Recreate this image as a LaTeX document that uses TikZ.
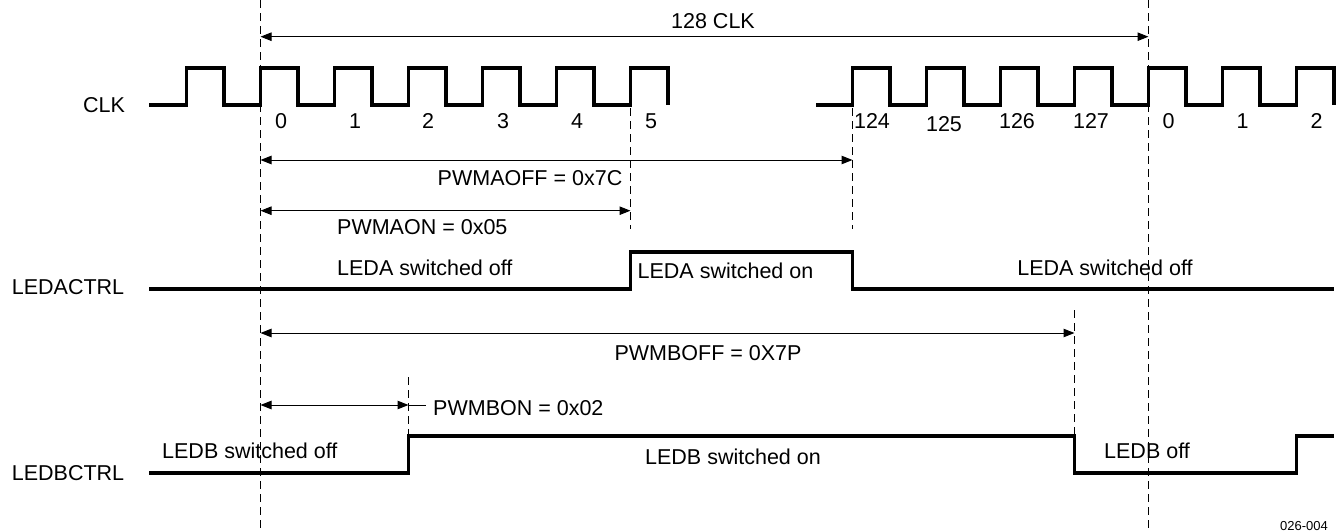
\documentclass[tikz,border=0pt]{standalone}
\usepackage{fontspec}
\setmainfont{Liberation Sans}
\usetikzlibrary{arrows.meta}
\begin{document}
\begin{tikzpicture}[x=1pt,y=-1pt,
  wave/.style={line width=3.6pt, line join=miter},
  vguide/.style={line width=0.9pt, dash pattern=on 8pt off 5pt},
  dim/.style={line width=1pt, {Triangle[length=11pt,width=8.5pt]}-{Triangle[length=11pt,width=8.5pt]}},
  leader/.style={line width=1pt},
  lbl/.style={font=\fontsize{21.5}{24}\selectfont, inner sep=0pt, anchor=base},
  lblw/.style={lbl, anchor=base west},
  tiny/.style={font=\fontsize{13}{15}\selectfont, inner sep=0pt, anchor=base}
]
\useasboundingbox (0,0) rectangle (1342,531);

% ---- guide coordinates ----
\coordinate (g0top) at (260.5,0);     \coordinate (g0bot) at (260.5,531);
\coordinate (g128top) at (1148.5,0);  \coordinate (g128bot) at (1148.5,531);
\coordinate (g5top) at (630.5,108);   \coordinate (g5bot) at (630.5,229);
\coordinate (g124top) at (852.5,108); \coordinate (g124bot) at (852.5,229);
\coordinate (gbontop) at (408.5,377); \coordinate (gbonbot) at (408.5,436);
\coordinate (gbofftop) at (1074.5,310); \coordinate (gboffbot) at (1074.5,436);

\draw[vguide] (g0top) -- (g0bot);
\draw[vguide] (g128top) -- (g128bot);
\draw[vguide] (g5top) -- (g5bot);
\draw[vguide] (g124top) -- (g124bot);
\draw[vguide] (gbontop) -- (gbonbot);
\draw[vguide] (gbofftop) -- (gboffbot);

% ---- dimension arrows ----
\coordinate (d128L) at (260.5,36.7);  \coordinate (d128R) at (1148.5,36.7);
\coordinate (daoffL) at (260.5,160);  \coordinate (daoffR) at (852.5,160);
\coordinate (daonL) at (260.5,210.7); \coordinate (daonR) at (630.5,210.7);
\coordinate (dboffL) at (260.5,333);  \coordinate (dboffR) at (1074.5,333);
\coordinate (dbonL) at (260.5,405);   \coordinate (dbonR) at (408.5,405);
\coordinate (dbonT) at (426,405);

\draw[dim] (d128L) -- (d128R);
\draw[dim] (daoffL) -- (daoffR);
\draw[dim] (daonL) -- (daonR);
\draw[dim] (dboffL) -- (dboffR);
\draw[dim] (dbonL) -- (dbonR);
\draw[leader] (dbonR) -- (dbonT);

% ---- CLK waveform ----
\draw[wave] (149,105)
  \foreach \k in {-1,...,5} { -- ({260.5+74*\k},105) -- ({260.5+74*\k},67.7) -- ({298+74*\k},67.7) -- ({298+74*\k},105) };
\draw[wave] (816,105)
  \foreach \k in {8,...,14} { -- ({260.5+74*\k},105) -- ({260.5+74*\k},67.7) -- ({298+74*\k},67.7) -- ({298+74*\k},105) };

% ---- LEDACTRL waveform ----
\draw[wave] (149,289) -- (630.5,289) -- (630.5,252) -- (852.5,252) -- (852.5,289) -- (1334,289);

% ---- LEDBCTRL waveform ----
\draw[wave] (149,472.7) -- (408.5,472.7) -- (408.5,436) -- (1074.5,436) -- (1074.5,472.7)
  -- (1296.5,472.7) -- (1296.5,436) -- (1334,436);

% ---- texts ----
\node[lbl] (t128) at (713,28.3) {128 CLK};
\node[lbl] (tclk) at (104,112.7) {CLK};
\node[lbl] (n0) at (281,128) {0};
\node[lbl] (n1) at (355,128) {1};
\node[lbl] (n2) at (428,128) {2};
\node[lbl] (n3) at (503,128) {3};
\node[lbl] (n4) at (577,128) {4};
\node[lbl] (n5) at (651,128) {5};
\node[lbl] (n124) at (872,128) {124};
\node[lbl] (n125) at (944,131) {125};
\node[lbl] (n126) at (1017,128) {126};
\node[lbl] (n127) at (1091,128) {127};
\node[lbl] (m0) at (1168.5,128) {0};
\node[lbl] (m1) at (1242.5,128) {1};
\node[lbl] (m2) at (1316.5,128) {2};

\node[lbl] (taoff) at (530,185) {PWMAOFF = 0x7C};
\node[lblw] (taon) at (337,234) {PWMAON = 0x05};
\node[lblw] (taoffst) at (337,275) {LEDA switched off};
\node[lbl] (tledactrl) at (68,294.3) {LEDACTRL};
\node[lbl] (taonst) at (725.5,278) {LEDA switched on};
\node[lbl] (taoffst2) at (1105,275) {LEDA switched off};

\node[lbl] (tboff) at (708,360) {PWMBOFF = 0X7P};
\node[lblw] (tbon) at (433,415) {PWMBON = 0x02};
\node[lblw] (tboffst) at (162,458) {LEDB switched off};
\node[lbl] (tledbctrl) at (68,480) {LEDBCTRL};
\node[lbl] (tbonst) at (733,464) {LEDB switched on};
\node[lbl] (tboffst2) at (1147,458) {LEDB off};

\node[tiny] (fig) at (1304,530) {026-004};
\end{tikzpicture}
\end{document}
